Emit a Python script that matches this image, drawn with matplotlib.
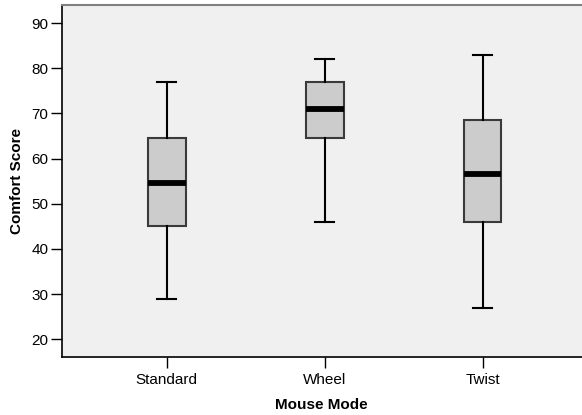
import matplotlib
matplotlib.use('Agg')
import matplotlib.pyplot as plt

# five-number summaries
modes = ['Standard', 'Wheel', 'Twist']
whisker_low = [29, 46, 27]
q1 = [45, 64.5, 46]
medians = [54.5, 71, 56.5]
q3 = [64.5, 77, 68.5]
whisker_high = [77, 82, 83]

plt.rcParams['font.family'] = ['Liberation Sans', 'DejaVu Sans']

fig = plt.figure(figsize=(5.82, 4.15), dpi=100)
ax = fig.add_axes([61.5 / 582, 1 - 356.5 / 415, 1 - 61.5 / 582, (356.5 - 5.5) / 415])
ax.set_facecolor('#F0F0F0')

stats = []
for i, name in enumerate(modes):
    stats.append({'label': name, 'whislo': whisker_low[i], 'q1': q1[i], 'med': medians[i],
                  'q3': q3[i], 'whishi': whisker_high[i], 'fliers': []})

ax.bxp(stats, positions=[1, 2, 3], widths=0.24, patch_artist=True, showfliers=False,
       boxprops=dict(facecolor='#CCCCCC', edgecolor='#3a3a3a', linewidth=1.5),
       medianprops=dict(color='black', linewidth=4.2, solid_capstyle='butt'),
       whiskerprops=dict(color='black', linewidth=1.5),
       capprops=dict(color='black', linewidth=1.5), capwidths=0.12)

ax.set_xlim(1 - 0.666, 3 + 0.63)
ax.set_ylim(16.2, 93.9)
ax.set_yticks([20, 30, 40, 50, 60, 70, 80, 90])

ax.tick_params(axis='both', direction='out', length=8, width=1, labelsize=11, colors='black')
ax.tick_params(axis='y', pad=1.5)
ax.tick_params(axis='x', pad=4)

for side in ['left', 'bottom']:
    ax.spines[side].set_color('black')
    ax.spines[side].set_linewidth(1.2)
ax.spines['top'].set_color('#808080')
ax.spines['top'].set_linewidth(1.5)
ax.spines['right'].set_visible(False)

ax.set_xlabel('Mouse Mode', fontsize=11, fontweight='bold', labelpad=8)
ax.set_ylabel('Comfort Score', fontsize=11, fontweight='bold', labelpad=5)

fig.savefig('out.png', dpi=100)
